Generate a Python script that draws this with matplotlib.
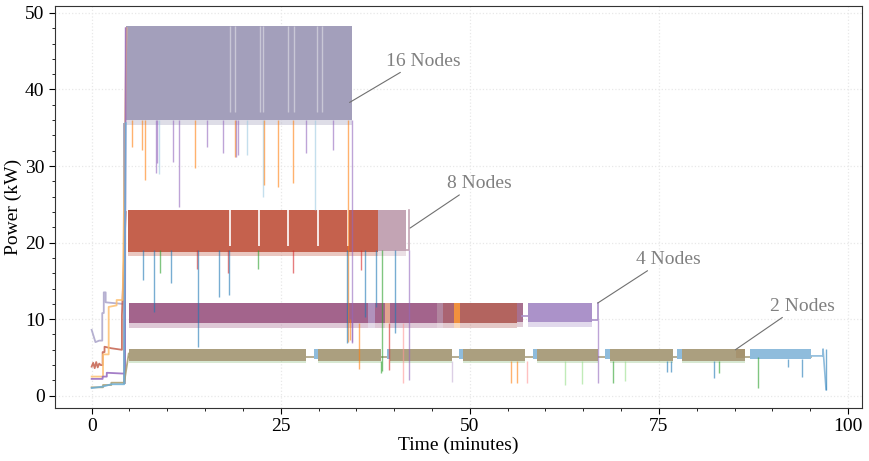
import matplotlib
matplotlib.use("Agg")
import matplotlib.pyplot as plt
from matplotlib.ticker import MultipleLocator, AutoMinorLocator

plt.rcParams['font.family'] = ['Liberation Serif', 'DejaVu Serif']
plt.rcParams['font.size'] = 14

# ---- data (time in minutes, power in kW) ----
# dense oscillating bands: start, end, low, high, colour
band_start = [4.6, 4.8, 37.8, 4.9, 36.6, 37.4, 38.8, 39.4, 45.6, 46.4, 47.9, 48.7, 56.3, 57.7]
band_end = [34.4, 37.8, 41.5, 36.6, 37.4, 38.8, 39.4, 45.6, 46.4, 47.9, 48.7, 56.3, 57.0, 66.1]
band_low = [36.0, 18.8, 18.9, 9.5, 9.5, 9.5, 9.5, 9.5, 9.5, 9.5, 9.5, 9.5, 9.6, 9.6]
band_high = [48.3, 24.2, 24.2, 12.1, 12.1, 12.1, 12.1, 12.1, 12.1, 12.1, 12.1, 12.1, 12.1, 12.1]
band_color = ['#a39fbb', '#c5614d', '#c3a4b4', '#a3648c', '#b192bd', '#a3648c', '#dfa38f',
              '#a3648c', '#b2869f', '#aa6472', '#f0913e', '#b3645f', '#a8708f', '#ab92c9']

# 2-node runs (olive) and the blue run at the end
two_start = [4.9, 29.9, 39.4, 49.1, 58.9, 68.5, 78.0]
two_end = [28.4, 38.2, 47.6, 57.3, 67.0, 76.9, 86.4]
two_low, two_high = 4.6, 6.1
blue_start = [29.4, 39.0, 48.6, 58.4, 67.9, 77.4, 87.0]
blue_end = [29.9, 39.4, 49.1, 58.9, 68.5, 78.0, 95.1]

# light vertical gaps inside the 16 / 8 node bands
gap16_t = [18.3, 18.9, 22.3, 22.7, 26.0, 26.7, 29.8, 30.4]
gap8_t = [18.3, 22.1, 25.9, 29.9, 33.9]

# downward spikes: time, bottom, top, colour
spike_t = [5.3, 6.6, 7.1, 8.5, 8.6, 8.9, 10.7, 11.6, 13.6, 15.2, 17.3, 18.9, 19.1, 19.3,
           20.6, 22.6, 22.8, 24.6, 26.6, 28.4, 29.5, 31.9, 33.9, 34.4,
           6.8, 8.3, 9.0, 10.5, 13.9, 14.1, 16.8, 18.0, 18.1, 22.0, 26.6, 33.7, 35.6, 36.1,
           37.6, 38.4, 40.1, 42.0,
           34.1, 34.4, 39.3, 41.1, 38.3, 47.6, 55.5, 56.3, 57.5, 62.6, 64.8, 67.0,
           68.9, 70.5, 76.1, 76.6, 82.3, 83.0, 88.1, 92.1, 93.9, 97.1, 35.4]
spike_bot = [32.5, 32.1, 28.2, 29.1, 30.4, 28.9, 30.5, 24.7, 29.8, 32.5, 31.7, 31.2, 31.2, 31.5,
             31.4, 26.0, 27.5, 27.3, 27.8, 31.7, 24.3, 32.1, 7.0, 7.0,
             15.1, 11.0, 16.0, 14.7, 16.5, 6.4, 12.9, 16.0, 13.2, 16.6, 16.0, 6.9, 16.4, 10.3,
             11.6, 3.2, 8.2, 2.1,
             7.3, 6.9, 3.4, 1.7, 3.0, 1.8, 1.7, 1.6, 1.6, 1.4, 1.5, 1.7,
             1.7, 1.9, 3.1, 3.1, 2.3, 3.0, 1.0, 3.8, 2.5, 0.8, 3.5]
spike_top = [36] * 24 + [19] * 18 + [10, 10, 9.5, 9.5, 4.6, 4.6, 4.6, 4.6, 4.6, 4.6, 4.6, 9.9,
                                     4.6, 4.6, 4.6, 4.6, 4.6, 4.6, 5.0, 4.8, 4.8, 6.1, 9.5]
spike_color = ['#ff7f0e', '#ff7f0e', '#ff7f0e', '#9467bd', '#9467bd', '#9ecae1', '#9467bd',
               '#9467bd', '#ff7f0e', '#9467bd', '#9467bd', '#ff7f0e', '#9467bd', '#9467bd',
               '#9ecae1', '#9ecae1', '#ff7f0e', '#ff7f0e', '#ff7f0e', '#9467bd', '#9ecae1',
               '#9467bd', '#ff7f0e', '#9467bd',
               '#1f77b4', '#1f77b4', '#2ca02c', '#1f77b4', '#d62728', '#1f77b4', '#1f77b4',
               '#d62728', '#1f77b4', '#2ca02c', '#d62728', '#1f77b4', '#d62728', '#1f77b4',
               '#1f77b4', '#2ca02c', '#1f77b4', '#9467bd',
               '#ff7f0e', '#9467bd', '#d62728', '#ff9896', '#2ca02c', '#c5b0d5', '#ff7f0e',
               '#ff7f0e', '#ff9896', '#98df8a', '#98df8a', '#9467bd',
               '#2ca02c', '#98df8a', '#1f77b4', '#1f77b4', '#1f77b4', '#2ca02c', '#2ca02c',
               '#1f77b4', '#1f77b4', '#1f77b4', '#ff7f0e']

# start-up ramps before the jobs reach steady state
ramp_purple_t = [0, 0.5, 1.0, 1.4, 1.4, 1.6, 1.6, 1.85, 1.85, 4.0, 4.4]
ramp_purple_y = [8.6, 7.0, 7.2, 7.2, 10.8, 10.8, 13.5, 13.5, 12.2, 12.0, 12.0]
ramp_red_t = [0, 0.2, 0.4, 0.6, 0.8, 1.0, 1.2, 1.45, 1.45, 1.7, 1.7, 2.6, 4.0, 4.0, 4.5]
ramp_red_y = [3.8, 4.3, 3.6, 4.4, 3.7, 4.2, 4.0, 4.0, 5.7, 5.7, 6.4, 6.2, 6.0, 10.5, 24.0]
ramp_orange_t = [0, 1.5, 1.5, 2.25, 2.25, 3.3, 3.3, 4.1, 4.6]
ramp_orange_y = [2.5, 2.5, 5.4, 5.4, 11.6, 11.8, 12.5, 12.5, 48.0]
ramp_violet_t = [0, 1.45, 1.45, 2.0, 2.0, 4.0, 4.4, 4.5]
ramp_violet_y = [2.2, 2.2, 2.5, 2.5, 3.0, 2.9, 2.9, 48.0]
ramp_olive_t = [0, 1.5, 1.5, 2.6, 2.6, 4.3, 4.9]
ramp_olive_y = [1.1, 1.1, 1.4, 1.4, 1.7, 1.7, 5.5]
ramp_blue_t = [0, 1.5, 2.6, 4.3, 4.5]
ramp_blue_y = [1.0, 1.2, 1.5, 1.5, 35.6]

labels = ['16 Nodes', '8 Nodes', '4 Nodes', '2 Nodes']
label_xy = [(34.1, 38.3), (42.1, 21.9), (66.9, 12.1), (85.1, 6.0)]
label_text_xy = [(43.9, 43.7), (51.3, 27.7), (76.2, 17.8), (94.0, 11.7)]

# ---- plot ----
fig = plt.figure(figsize=(8.7, 4.61), dpi=100)
ax = fig.add_axes([0.0632, 0.115, 0.9276, 0.872])

ax.grid(True, which='major', color='#e8e8e8', linestyle=':', linewidth=0.9)
ax.set_axisbelow(True)

# start-up step
ax.fill_between([4.1, 4.5], 1.5, 35.6, color='#a9abc0', lw=0)

for s, e, lo, hi, c in zip(band_start, band_end, band_low, band_high, band_color):
    ax.fill_between([s, e], lo, hi, color=c, lw=0)
    # ragged lower edge of the oscillation
    ax.fill_between([s, e], lo - 0.6, lo, color=c, lw=0, alpha=0.35)

# 2-node level in the gaps between runs
ax.plot([two_start[0], blue_end[-1]], [5.0, 5.0], color='#a99f80', lw=1.2, zorder=1)
for s, e in zip(two_start, two_end):
    ax.fill_between([s, e], two_low, two_high, color='#ab9f7f', lw=0)
    ax.fill_between([s, e], two_low - 0.35, two_low, color='#8fbf7f', lw=0, alpha=0.35)
ax.fill_between([85.2, 86.4], two_low + 0.3, two_high, color='#a6936f', lw=0)
for s, e in zip(blue_start, blue_end):
    ax.fill_between([s, e], 4.8, two_high, color='#8fbcdc', lw=0)
ax.plot([95.1, 96.7, 96.7, 97.1], [5.2, 5.2, 6.1, 0.8], color='#8fbcdc', lw=1.2)

# tails
ax.plot([66.1, 67.0, 67.0], [9.9, 9.9, 12.1], color='#ab92c9', lw=1.2)
ax.plot([41.5, 41.9, 41.9], [19.0, 19.0, 24.2], color='#c3a4b4', lw=1.2)
ax.plot([56.9, 57.7], [10.4, 10.4], color='#ab92c9', lw=1.2)

ax.vlines(gap16_t, 37.0, 48.3, colors='#c9c7d6', lw=1.0)
ax.vlines(gap8_t, 19.5, 24.2, colors='white', lw=1.2)

ax.vlines(spike_t, spike_bot, spike_top, colors=spike_color, lw=1.0, alpha=0.6)

for t, y, c in [(ramp_purple_t, ramp_purple_y, '#a9a3c9'),
                (ramp_red_t, ramp_red_y, '#c5614d'),
                (ramp_orange_t, ramp_orange_y, '#fdbf6f'),
                (ramp_violet_t, ramp_violet_y, '#9467bd'),
                (ramp_olive_t, ramp_olive_y, '#a89a6a'),
                (ramp_blue_t, ramp_blue_y, '#6baed6')]:
    ax.plot(t, y, color=c, lw=1.3, alpha=0.85)

for text, xy, xyt in zip(labels, label_xy, label_text_xy):
    ax.annotate(text, xy=xy, xytext=xyt, ha='center', va='center', color='#808080',
                fontsize=14,
                arrowprops=dict(arrowstyle='-', color='#707070', lw=0.8,
                                relpos=(0.25, 0.0), shrinkA=0, shrinkB=0))

ax.set_xlim(-4.85, 101.85)
ax.set_ylim(-1.6, 50.9)
ax.xaxis.set_major_locator(MultipleLocator(25))
ax.yaxis.set_major_locator(MultipleLocator(10))
ax.xaxis.set_minor_locator(AutoMinorLocator(5))
ax.yaxis.set_minor_locator(AutoMinorLocator(5))
ax.tick_params(which='major', length=4, labelsize=14)
ax.tick_params(which='minor', length=2)
ax.set_xlabel('Time (minutes)', fontsize=14, labelpad=1)
ax.set_ylabel('Power (kW)', fontsize=14, labelpad=2)
for sp in ax.spines.values():
    sp.set_color('#333333')

fig.savefig('out.png', dpi=100)
